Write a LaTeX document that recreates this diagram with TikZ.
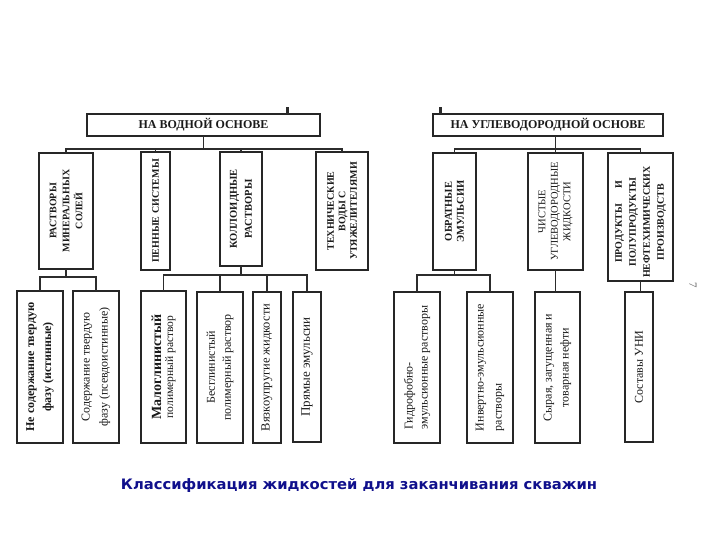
\documentclass[tikz,border=0pt]{standalone}
\usepackage{fontspec}
\setmainfont{Liberation Serif}
\newfontfamily\capfont{DejaVu Sans}
\definecolor{boxc}{HTML}{262626}
\definecolor{linec}{HTML}{2C2C2C}
\definecolor{txtc}{HTML}{1A1A1A}
\definecolor{capc}{HTML}{10108C}
\newcommand\fs[2]{\fontsize{#1}{#2}\selectfont}
\begin{document}
\begin{tikzpicture}[x=1pt,y=-1pt,
  box/.style={draw=boxc, line width=2pt, fill=white, inner sep=0pt},
  conn/.style={draw=linec, line width=1.6pt, line cap=rect},
  lbl/.style={rotate=90, align=center, inner sep=0pt, text=txtc},
  lbll/.style={rotate=90, align=left, inner sep=0pt, text=txtc},
  toplbl/.style={inner sep=0pt, text=txtc, font=\bfseries\fs{12}{14}}]
\useasboundingbox (0,0) rectangle (720,540);
\fill[white] (0,0) rectangle (720,540);

% bus coordinates
\coordinate (bw) at (0,149);
\coordinate (bh) at (0,149);
\coordinate (b1) at (0,277);
\coordinate (b2) at (0,275);
\coordinate (b3) at (0,275);

% level 1
\node[box, minimum width=233pt, minimum height=22pt] (wtop) at (203.5,125) {};
\node[box, minimum width=230pt, minimum height=22pt] (htop) at (548,125) {};
\node[toplbl] (wtop-t) at (wtop) {НА ВОДНОЙ ОСНОВЕ};
\node[toplbl] (htop-t) at (htop) {НА УГЛЕВОДОРОДНОЙ ОСНОВЕ};
\fill[linec] (286,107) rectangle (288.5,114);
\fill[linec] (439,107) rectangle (441.5,114);

% level 2
\node[box, minimum width=54pt, minimum height=116pt] (rms) at (66,211) {};
\node[box, minimum width=29pt, minimum height=118pt] (pen) at (155.5,211) {};
\node[box, minimum width=42pt, minimum height=114pt] (kol) at (241,209) {};
\node[box, minimum width=52pt, minimum height=118pt] (teh) at (342,211) {};
\node[box, minimum width=43pt, minimum height=117pt] (obr) at (454.5,211.5) {};
\node[box, minimum width=55pt, minimum height=117pt] (chi) at (555.5,211.5) {};
\node[box, minimum width=65pt, minimum height=128pt] (prod) at (640.5,217) {};

\node[lbl, font=\bfseries\fs{10}{13}] (rms-t) at (rms) {РАСТВОРЫ\\МИНЕРАЛЬНЫХ\\СОЛЕЙ};
\node[lbl, font=\bfseries\fs{10}{12}] (pen-t) at (pen) {ПЕННЫЕ СИСТЕМЫ};
\node[lbl, font=\bfseries\fs{10.5}{15}] (kol-t) at (kol) {КОЛЛОИДНЫЕ\\РАСТВОРЫ};
\node[lbl, font=\bfseries\fs{10}{11.5}] (teh-t) at (teh) {ТЕХНИЧЕСКИЕ\\ВОДЫ С\\УТЯЖЕЛИТЕЛЯМИ};
\node[lbl, font=\bfseries\fs{10.5}{12}] (obr-t) at (obr) {ОБРАТНЫЕ\\ЭМУЛЬСИИ};
\node[lbl, font=\fs{10.5}{12.5}] (chi-t) at (chi) {ЧИСТЫЕ\\УГЛЕВОДОРОДНЫЕ\\ЖИДКОСТИ};
\node[lbl, font=\bfseries\fs{10}{14}] (prod-t) at ([yshift=-5pt]prod.center) {ПРОДУКТЫ\hspace{1.5em}И\\ПОЛУПРОДУКТЫ\\НЕФТЕХИМИЧЕСКИХ\\ПРОИЗВОДСТВ};

% level 3
\node[box, minimum width=46pt, minimum height=152pt] (ist) at (40,367) {};
\node[box, minimum width=46pt, minimum height=152pt] (psev) at (96,367) {};
\node[box, minimum width=45pt, minimum height=152pt] (malo) at (163.5,367) {};
\node[box, minimum width=46pt, minimum height=151pt] (besg) at (220,367.5) {};
\node[box, minimum width=28pt, minimum height=151pt] (vyaz) at (267,367.5) {};
\node[box, minimum width=28pt, minimum height=150pt] (pryam) at (307,367) {};
\node[box, minimum width=46pt, minimum height=151pt] (gidr) at (417,367.5) {};
\node[box, minimum width=46pt, minimum height=151pt] (inv) at (490,367.5) {};
\node[box, minimum width=45pt, minimum height=151pt] (syr) at (557.5,367.5) {};
\node[box, minimum width=28pt, minimum height=150pt] (uni) at (639,367) {};

\node[lbl, font=\bfseries\fs{12}{17}] (ist-t) at (ist) {Не содержание твердую\\фазу (истинные)};
\node[lbl, font=\fs{12}{18}] (psev-t) at (psev) {Содержание твердую\\фазу (псевдоистинные)};
\node[lbl] (malo-t) at (malo) {{\bfseries\fs{14}{19}Малоглинистый}\\{\fs{11.5}{19}полимерный раствор}};
\node[lbl, font=\fs{12}{16}] (besg-t) at (besg) {Бесглинистый\\полимерный раствор};
\node[lbl, font=\fs{12.5}{14}] (vyaz-t) at (vyaz) {Вязкоупругие жидкости};
\node[lbl, font=\fs{13}{14}] (pryam-t) at (pryam) {Прямые эмульсии};
\node[lbll, font=\fs{12}{15}] (gidr-t) at (gidr) {Гидрофобно-\\эмульсионные растворы};
\node[lbll, font=\fs{12}{18}] (inv-t) at (inv) {Инвертно-эмульсионные\\растворы};
\node[lbl, font=\fs{12}{17}] (syr-t) at (syr) {Сырая, загущенная и\\товарная нефти};
\node[lbl, font=\fs{12}{14}] (uni-t) at (uni) {Составы УНИ};

% connectors: water-based
\draw[conn] (wtop.south) -- (wtop.south |- bw);
\draw[conn] (rms.north |- bw) -- (teh.north |- bw);
\foreach \n in {rms,pen,kol,teh} \draw[conn] (\n.north |- bw) -- (\n.north);
\draw[conn] (rms.south) -- (rms.south |- b1);
\draw[conn] (ist.north |- b1) -- (psev.north |- b1);
\foreach \n in {ist,psev} \draw[conn] (\n.north |- b1) -- (\n.north);
\draw[conn] (kol.south) -- (kol.south |- b2);
\draw[conn] (malo.north |- b2) -- (pryam.north |- b2);
\foreach \n in {malo,besg,vyaz,pryam} \draw[conn] (\n.north |- b2) -- (\n.north);

% connectors: hydrocarbon-based
\draw[conn] (htop.south -| chi.north) -- (chi.north);
\draw[conn] (obr.north |- bh) -- (prod.north |- bh);
\foreach \n in {obr,prod} \draw[conn] (\n.north |- bh) -- (\n.north);
\draw[conn] (obr.south) -- (obr.south |- b3);
\draw[conn] (gidr.north |- b3) -- (inv.north |- b3);
\foreach \n in {gidr,inv} \draw[conn] (\n.north |- b3) -- (\n.north);
\draw[conn] (chi.south) -- (chi.south |- syr.north);
\draw[conn] (prod.south) -- (prod.south |- uni.north);

% page number
\node[rotate=-90, inner sep=0pt, text=gray!80!black, font=\fs{11}{12}] (pnum) at (693,285) {7};

% caption
\node[inner sep=0pt, text=capc] (cap) at (359,485) {\resizebox{476pt}{11pt}{\capfont\bfseries Классификация жидкостей для заканчивания скважин}};
\end{tikzpicture}
\end{document}
